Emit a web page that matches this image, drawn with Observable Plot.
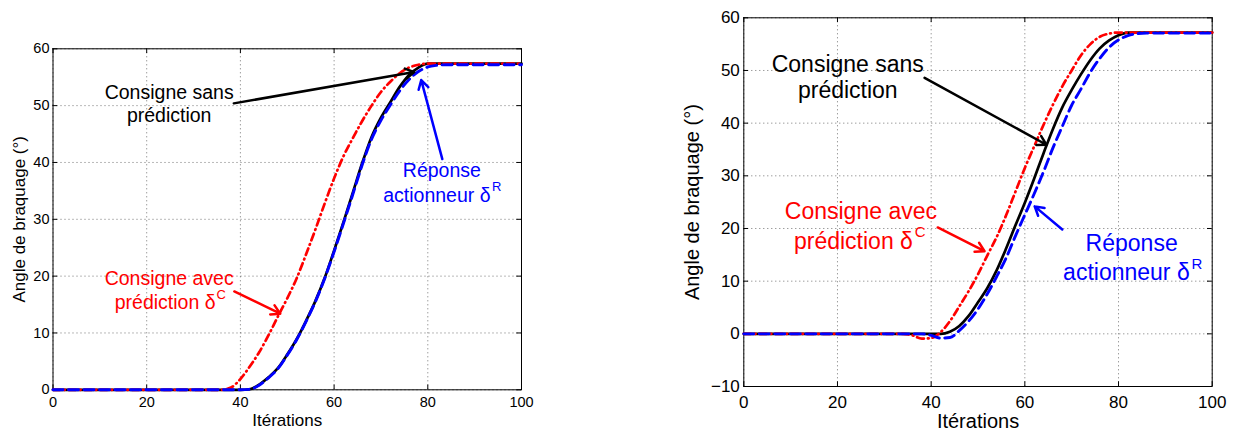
<!DOCTYPE html>
<html><head><meta charset="utf-8">
<script src="https://cdn.jsdelivr.net/npm/d3@7"></script>
<script src="https://cdn.jsdelivr.net/npm/@observablehq/plot@0.6"></script>
<style>
html,body{margin:0;padding:0;background:#fff;}
#wrap{position:relative;width:1235px;height:432px;overflow:hidden;background:#fff;}
#left{position:absolute;left:0;top:0;}
#right{position:absolute;left:620px;top:0;}
</style></head><body><div id="wrap"><div id="left"></div><div id="right"></div></div>
<script>
// ---- data ----
const iterations = [0, 34, 36, 38, 40, 42, 44, 46, 48, 50, 52, 54, 56, 58, 60, 62, 64, 66, 68, 70, 72, 74, 76, 78, 80, 82, 84, 86, 100];

// left panel
const leftSans   = [0, 0, 0, 0, 0, 0.1, 0.9, 2.2, 3.8, 6.2, 8.9, 12.1, 15.6, 19.7, 24.5, 29.5, 34.7, 39.9, 44.5, 47.9, 50.6, 53.3, 55.4, 56.7, 57.4, 57.4, 57.4, 57.4, 57.4];
const leftAvec   = [0, 0, 0, 0.4, 1.9, 4.1, 6.6, 9.6, 12.9, 16.1, 19.6, 23.8, 28.2, 32.8, 37.2, 41.1, 44.3, 47.3, 50.0, 52.4, 54.2, 55.7, 56.7, 57.2, 57.4, 57.4, 57.4, 57.4, 57.4];
const leftReponse= [0, 0, 0, 0, 0, 0.1, 0.8, 2.1, 3.7, 6.1, 8.8, 12.0, 15.5, 19.6, 24.3, 29.3, 34.4, 39.6, 44.1, 47.4, 50.1, 52.6, 54.6, 56.0, 56.8, 57.1, 57.2, 57.2, 57.2];

// right panel
const rightSans   = [0, 0, 0, 0, 0, 0, 0.4, 1.5, 3.4, 6.0, 8.7, 12.1, 16.2, 20.6, 24.9, 29.5, 34.3, 38.9, 43.0, 46.3, 49.3, 52.0, 54.2, 55.7, 56.7, 57.2, 57.2, 57.2, 57.2];
const rightAvec   = [0, 0, -0.3, -0.9, -0.8, 0.3, 2.4, 5.2, 8.1, 11.3, 14.9, 18.4, 22.5, 27.0, 31.5, 35.6, 39.7, 43.5, 47.0, 50.0, 52.9, 55.0, 56.4, 57.0, 57.2, 57.2, 57.2, 57.2, 57.2];
const rightReponse= [0, 0, 0, 0, -0.3, -0.8, -0.7, 0.6, 2.4, 4.7, 7.6, 10.9, 14.4, 18.6, 22.6, 26.6, 30.8, 35.3, 39.4, 43.4, 46.5, 49.7, 52.3, 54.4, 55.8, 56.6, 57.0, 57.1, 57.1];

const xTicks = [0, 20, 40, 60, 80, 100];
const yTicksLeft = [0, 10, 20, 30, 40, 50, 60];
const yTicksRight = [-10, 0, 10, 20, 30, 40, 50, 60];
const xLabel = "Itérations";
const yLabel = "Angle de braquage (°)";

// annotations (data coordinates)
const leftNotes = [
  {text: "Consigne sans", x: 24.8, y: 52.3, color: "#000", anchor: "middle", sup: false},
  {text: "prédiction", x: 24.8, y: 48.3, color: "#000", anchor: "middle", sup: false},
  {text: "Consigne avec", x: 24.8, y: 19.5, color: "#ff0000", anchor: "middle", sup: false},
  {text: "prédiction δ", x: 34.7, y: 15.3, color: "#ff0000", anchor: "end", sup: false},
  {text: "C", x: 34.9, y: 16.7, color: "#ff0000", anchor: "start", sup: true},
  {text: "Réponse", x: 83.0, y: 38.5, color: "#0000ff", anchor: "middle", sup: false},
  {text: "actionneur δ", x: 93.4, y: 34.2, color: "#0000ff", anchor: "end", sup: false},
  {text: "R", x: 93.7, y: 35.7, color: "#0000ff", anchor: "start", sup: true}
];
const leftArrows = [
  {x1: 38.6, y1: 50.4, x2: 77.1, y2: 55.9, color: "#000"},
  {x1: 38.7, y1: 17.3, x2: 48.5, y2: 13.4, color: "#ff0000"},
  {x1: 83.1, y1: 40.6, x2: 78.6, y2: 54.5, color: "#0000ff"}
];
const rightNotes = [
  {text: "Consigne sans", x: 22.2, y: 51.1, color: "#000", anchor: "middle", sup: false},
  {text: "prédiction", x: 22.2, y: 46.1, color: "#000", anchor: "middle", sup: false},
  {text: "Consigne avec", x: 25.0, y: 23.2, color: "#ff0000", anchor: "middle", sup: false},
  {text: "prédiction δ", x: 36.1, y: 17.6, color: "#ff0000", anchor: "end", sup: false},
  {text: "C", x: 36.5, y: 19.3, color: "#ff0000", anchor: "start", sup: true},
  {text: "Réponse", x: 82.8, y: 17.1, color: "#0000ff", anchor: "middle", sup: false},
  {text: "actionneur δ", x: 95.2, y: 11.6, color: "#0000ff", anchor: "end", sup: false},
  {text: "R", x: 95.6, y: 13.3, color: "#0000ff", anchor: "start", sup: true}
];
const rightArrows = [
  {x1: 38.6, y1: 48.6, x2: 64.6, y2: 35.9, color: "#000"},
  {x1: 41.4, y1: 20.2, x2: 51.4, y2: 15.7, color: "#ff0000"},
  {x1: 68.0, y1: 19.8, x2: 62.1, y2: 24.2, color: "#0000ff"}
];

// ---- drawing ----
function rows(values) { return iterations.map((x, i) => ({x, y: values[i]})); }

function panel(cfg) {
  const {width, height, ml, mr, mt, mb, yDomain, yTicks, sans, avec, rep, notes, arrows,
         tickFont, labelFont, noteFont, supFont, tickPadX, tickPadY, xLabelDy, yLabelDx} = cfg;
  const H = height - mt - mb, W = width - ml - mr, tl = 4.7;
  const grid = {stroke: "#000", strokeOpacity: 0.55, strokeWidth: 1, strokeDasharray: "1,3"};
  const marks = [
    Plot.gridX(xTicks, grid),
    Plot.gridY(yTicks, grid),
    Plot.ruleX(xTicks, {x: d => d, insetTop: H - tl, stroke: "#000"}),
    Plot.ruleX(xTicks, {x: d => d, insetBottom: H - tl, stroke: "#000"}),
    Plot.ruleY(yTicks, {y: d => d, insetRight: W - tl, stroke: "#000"}),
    Plot.ruleY(yTicks, {y: d => d, insetLeft: W - tl, stroke: "#000"}),
    Plot.frame({stroke: "#000", strokeWidth: 1}),
    Plot.axisX({ticks: xTicks, tickSize: 0, tickPadding: tickPadX, fontSize: tickFont, label: null, fill: "#000"}),
    Plot.axisY({ticks: yTicks, tickSize: 0, tickPadding: tickPadY, fontSize: tickFont, label: null, fill: "#000"}),
    Plot.line(rows(sans), {x: "x", y: "y", stroke: "#000", strokeWidth: 2.7, curve: "monotone-x"}),
    Plot.line(rows(avec), {x: "x", y: "y", stroke: "#ff0000", strokeWidth: 2.7, strokeDasharray: "7,4,0.8,4", curve: "monotone-x"}),
    Plot.line(rows(rep), {x: "x", y: "y", stroke: "#0000ff", strokeWidth: 2.9, strokeDasharray: "10,5.5", curve: "monotone-x"}),
    ...arrows.map(a => Plot.arrow([a], {x1: "x1", y1: "y1", x2: "x2", y2: "y2", stroke: a.color, strokeWidth: 2.5, headLength: 6})),
    ...notes.map(n => Plot.text([n], {x: "x", y: "y", text: "text", fill: n.color, textAnchor: n.anchor, fontSize: n.sup ? supFont : noteFont})),
    Plot.text([xLabel], {frameAnchor: "bottom", text: d => d, dy: xLabelDy, textAnchor: "middle", lineAnchor: "middle", fontSize: labelFont, fill: "#000"}),
    Plot.text([yLabel], {frameAnchor: "left", text: d => d, rotate: -90, dx: yLabelDx, textAnchor: "middle", lineAnchor: "middle", fontSize: labelFont, fill: "#000"})
  ];
  return Plot.plot({
    width, height, marginLeft: ml, marginRight: mr, marginTop: mt, marginBottom: mb,
    x: {domain: [0, 100]},
    y: {domain: yDomain},
    style: {fontFamily: "'Liberation Sans', Arial, Helvetica, sans-serif", background: "white", color: "#000", overflow: "visible"},
    marks
  });
}

document.getElementById("left").appendChild(panel({
  width: 540, height: 432, ml: 52.5, mr: 19, mt: 48.3, mb: 42.7,
  yDomain: [0, 60], yTicks: yTicksLeft, sans: leftSans, avec: leftAvec, rep: leftReponse,
  notes: leftNotes, arrows: leftArrows,
  tickFont: 14.5, labelFont: 17, noteFont: 19.5, supFont: 13, tickPadX: 7, tickPadY: 3.5,
  xLabelDy: 30.5, yLabelDx: -33.3
}));
document.getElementById("right").appendChild(panel({
  width: 615, height: 432, ml: 123.3, mr: 23.3, mt: 17.3, mb: 46,
  yDomain: [-10, 60], yTicks: yTicksRight, sans: rightSans, avec: rightAvec, rep: rightReponse,
  notes: rightNotes, arrows: rightArrows,
  tickFont: 17, labelFont: 20, noteFont: 23, supFont: 15, tickPadX: 9.5, tickPadY: 4,
  xLabelDy: 35, yLabelDx: -51.7
}));
</script></body></html>
